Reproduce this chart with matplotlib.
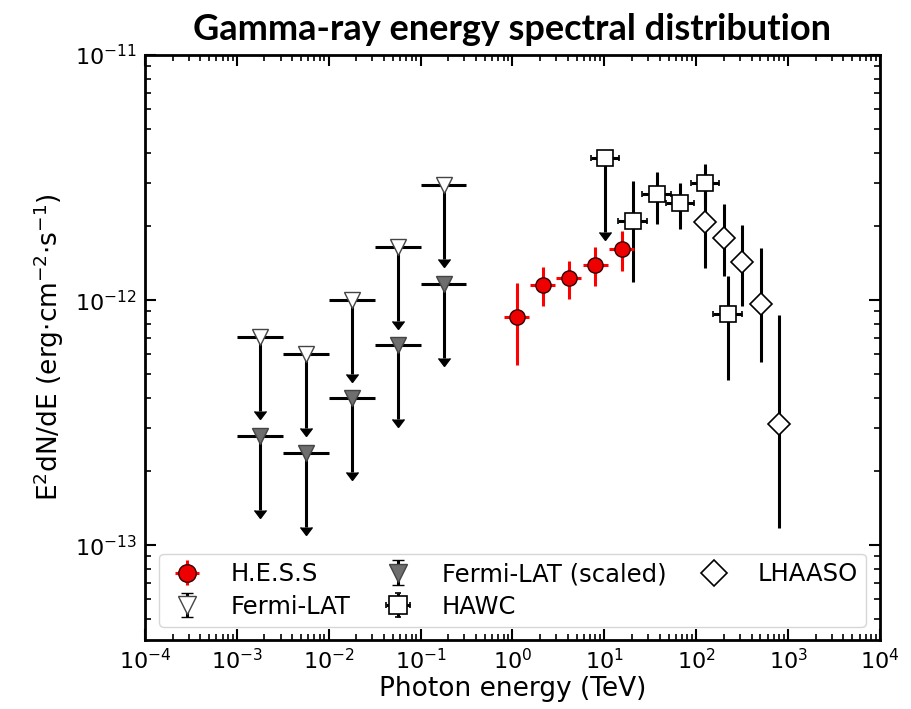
import numpy as np
import matplotlib
matplotlib.use('Agg')
import matplotlib.pyplot as plt
from matplotlib import ticker

plt.rcParams['font.family'] = 'DejaVu Sans'

# Fermi-LAT upper limits (half-decade bins)
fermi_e = [1.78e-3, 5.62e-3, 1.78e-2, 5.62e-2, 1.78e-1]
fermi_lo = [1.0e-3, 3.16e-3, 1.0e-2, 3.16e-2, 1.0e-1]
fermi_hi = [3.16e-3, 1.0e-2, 3.16e-2, 1.0e-1, 3.16e-1]
fermi_f = [7.05e-13, 6.0e-13, 1.0e-12, 1.65e-12, 2.94e-12]
fermi_scaled_f = [2.79e-13, 2.37e-13, 3.97e-13, 6.55e-13, 1.164e-12]

# H.E.S.S
hess_e = [1.11, 2.14, 4.09, 7.98, 15.4]
hess_f = [8.55e-13, 1.148e-12, 1.23e-12, 1.387e-12, 1.62e-12]
hess_fhi = [1.175e-12, 1.36e-12, 1.45e-12, 1.64e-12, 1.92e-12]
hess_flo = [5.42e-13, 9.44e-13, 1.01e-12, 1.14e-12, 1.31e-12]
hess_dex = 0.136

# HAWC (first point is an upper limit)
hawc_e = [10.2, 20.3, 37.0, 67.0, 124.5, 219.0]
hawc_f = [3.79e-12, 2.094e-12, 2.71e-12, 2.50e-12, 3.0e-12, 8.79e-13]
hawc_fhi = [3.79e-12, 3.07e-12, 3.32e-12, 3.0e-12, 3.59e-12, 1.25e-12]
hawc_flo = [1.9e-12, 1.19e-12, 2.04e-12, 1.95e-12, 2.45e-12, 4.71e-13]
hawc_ul = [True, False, False, False, False, False]
hawc_dex = 0.155

# LHAASO
lhaaso_e = [125.0, 201.0, 318.0, 505.0, 798.0]
lhaaso_f = [2.09e-12, 1.79e-12, 1.43e-12, 9.6e-13, 3.11e-13]
lhaaso_fhi = [2.85e-12, 2.47e-12, 2.03e-12, 1.63e-12, 8.73e-13]
lhaaso_flo = [1.35e-12, 1.25e-12, 9.44e-13, 5.6e-13, 1.17e-13]

x_ticks = [1e-4, 1e-3, 1e-2, 1e-1, 1e0, 1e1, 1e2, 1e3, 1e4]
y_ticks = [1e-13, 1e-12, 1e-11]


def asym(vals, lo, hi):
    vals = np.array(vals)
    return [vals - np.array(lo), np.array(hi) - vals]


fig = plt.figure(figsize=(9.11, 7.09), dpi=100)
ax = fig.add_axes([0.159, 0.0973, 0.807, 0.825])
ax.set_xscale('log')
ax.set_yscale('log')

# Fermi-LAT
fe = np.array(fermi_e)
xe = [fe - np.array(fermi_lo), np.array(fermi_hi) - fe]
ff = np.array(fermi_f)
ax.errorbar(fe, ff, xerr=xe, fmt='none', ecolor='k', elinewidth=2.2, capsize=0, zorder=2)
fermi = ax.errorbar(fe, ff, yerr=0.5 * ff, uplims=True, fmt='v', color='k', mfc='white',
                    mec='#444444', ms=11.5, ecolor='k', elinewidth=2.2, capsize=4,
                    label='Fermi-LAT', zorder=3)

fs = np.array(fermi_scaled_f)
ax.errorbar(fe, fs, xerr=xe, fmt='none', ecolor='k', elinewidth=2.2, capsize=0, zorder=2)
fermi_s = ax.errorbar(fe, fs, yerr=0.5 * fs, uplims=True, fmt='v', color='k', mfc='#6e6e6e',
                      mec='#444444', ms=11.5, ecolor='k', elinewidth=2.2, capsize=4,
                      label='Fermi-LAT (scaled)', zorder=3)

# H.E.S.S
he = np.array(hess_e)
hess = ax.errorbar(he, hess_f, yerr=asym(hess_f, hess_flo, hess_fhi),
                   xerr=[he - he / 10**hess_dex, he * 10**hess_dex - he],
                   fmt='o', color='#ee0000', mfc='#ee0000', mec='#330000', ms=11,
                   ecolor='#ff0000', elinewidth=2.2, capsize=0, label='H.E.S.S', zorder=4)

# HAWC
we = np.array(hawc_e)
wf = np.array(hawc_f)
ul = np.array(hawc_ul)
hawc_xerr = [we - we / 10**hawc_dex, we * 10**hawc_dex - we]
ax.errorbar(we[~ul], wf[~ul],
            yerr=asym(wf[~ul], np.array(hawc_flo)[~ul], np.array(hawc_fhi)[~ul]),
            fmt='none', ecolor='k', elinewidth=2.2, capsize=0, zorder=2)
ax.errorbar(we[ul], wf[ul], yerr=0.5 * wf[ul], uplims=True, fmt='none', color='k', ecolor='k',
            elinewidth=2.2, capsize=4, zorder=2)
hawc = ax.errorbar(we, wf, xerr=hawc_xerr, yerr=0 * wf, fmt='s', color='k', mfc='white',
                   mec='k', mew=1.2, ms=11, ecolor='k', elinewidth=2.2, capsize=2,
                   label='HAWC', zorder=5)

# LHAASO
ax.errorbar(lhaaso_e, lhaaso_f, yerr=asym(lhaaso_f, lhaaso_flo, lhaaso_fhi),
            fmt='none', ecolor='k', elinewidth=2.2, capsize=0, zorder=2)
lh, = ax.plot(lhaaso_e, lhaaso_f, 'D', mfc='white', mec='k', mew=1.2, ms=11.5,
              label='LHAASO', zorder=5)

ax.set_xlim(1e-4, 1e4)
ax.set_ylim(4.1e-14, 1e-11)
ax.set_xticks(x_ticks)
ax.set_yticks(y_ticks)
ax.xaxis.set_minor_locator(ticker.LogLocator(base=10, subs=np.arange(2, 10), numticks=20))
ax.yaxis.set_minor_locator(ticker.LogLocator(base=10, subs=np.arange(2, 10), numticks=20))
ax.xaxis.set_minor_formatter(ticker.NullFormatter())
ax.yaxis.set_minor_formatter(ticker.NullFormatter())
ax.set_xlim(1e-4, 1e4)
ax.set_ylim(4.1e-14, 1e-11)
ax.tick_params(which='both', direction='in', top=True, right=True, labelsize=16)
ax.tick_params(which='major', length=8, width=1.5, pad=6)
ax.tick_params(which='minor', length=4, width=1.2)
for s in ax.spines.values():
    s.set_linewidth(2)

ax.set_xlabel('Photon energy (TeV)', fontsize=19, labelpad=2)
ax.set_ylabel(r'E$^2$dN/dE (erg$\cdot$cm$^{-2}$$\cdot$s$^{-1}$)', fontsize=19, labelpad=6)
fig.suptitle('Gamma-ray energy spectral distribution', x=0.562, y=0.982,
             fontsize=26, fontweight='bold', family='Lato')

ax.legend([hess, fermi, fermi_s, hawc, lh],
          ['H.E.S.S', 'Fermi-LAT', 'Fermi-LAT (scaled)', 'HAWC', 'LHAASO'],
          loc='lower left', bbox_to_anchor=(0.019, 0.022, 0.962, 0.2), mode='expand',
          ncol=3, fontsize=17.5, markerscale=1.15, handlelength=1.6,
          handletextpad=1.0, columnspacing=0.6, borderaxespad=0.0,
          labelspacing=0.35, borderpad=0.35)

fig.savefig('out.png', dpi=100)
